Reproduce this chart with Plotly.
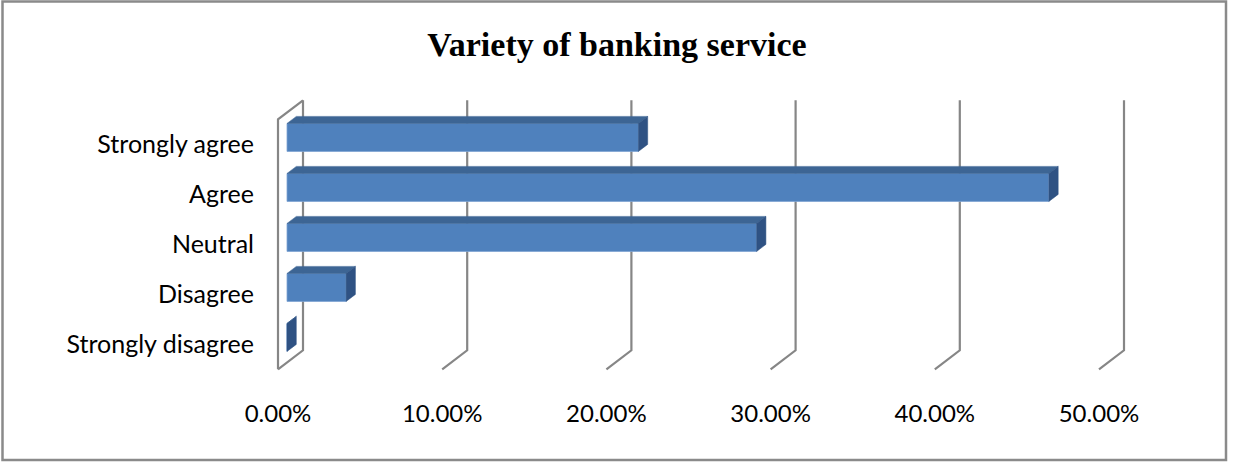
import plotly.graph_objects as go

# ---------------- data ----------------
categories = ["Strongly agree", "Agree", "Neutral", "Disagree", "Strongly disagree"]
values = [0.214, 0.464, 0.286, 0.036, 0.0]
tick_values = [0.0, 0.1, 0.2, 0.3, 0.4, 0.5]
title_text = "Variety of banking service"

# ---------------- geometry (pixels) ----------------
W, H = 1234, 462
PX_PER_UNIT = 1642.0      # px per 1.0 (=100%)
X0_PX = 278.0             # px of 0% at the front of the floor
SLOT_PX = 50.0            # px per category slot
Y0_PX = 144.3             # px of first category centre (front)
DEPTH_RATIO = 0.76        # vertical rise per px of depth
WALL_DEPTH = 25.0
BAR_FRONT, BAR_BACK = 9.0, 18.3
BAR_THICK = 28.0

L, R, T, B = 263, 4, 90, 82


def dx(d):
    return d / PX_PER_UNIT


def dy(d):
    return -DEPTH_RATIO * d / SLOT_PX


x_range = [(L - X0_PX) / PX_PER_UNIT, (W - R - X0_PX) / PX_PER_UNIT]
y_range = [(H - B - Y0_PX) / SLOT_PX, (T - Y0_PX) / SLOT_PX]  # reversed

n = len(categories)
wall_top, wall_bot = -0.5, n - 0.5
half = BAR_THICK / SLOT_PX / 2

FRONT = "#4F81BD"
TOP = "#3D6594"
SIDE = "#2F5283"
GRID = "#868686"

fig = go.Figure()

# gridlines / walls as shapes below traces
shapes = []
for t in tick_values:
    xb = t + dx(WALL_DEPTH)
    path = f"M {xb},{wall_top + dy(WALL_DEPTH)} L {xb},{wall_bot + dy(WALL_DEPTH)} L {t},{wall_bot}"
    shapes.append(dict(type="path", xref="x", yref="y", path=path, layer="below",
                       line=dict(color=GRID, width=2.2)))
# left wall front edge and top
t0 = tick_values[0]
path = (f"M {t0},{wall_bot} L {t0},{wall_top} "
        f"L {t0 + dx(WALL_DEPTH)},{wall_top + dy(WALL_DEPTH)}")
shapes.append(dict(type="path", xref="x", yref="y", path=path, layer="below",
                   line=dict(color=GRID, width=2.2)))


# outer border
def px2paper_x(px):
    return (px - L) / (W - L - R)


def px2paper_y(py):
    return 1 - (py - T) / (H - T - B)


shapes.append(dict(type="rect", xref="paper", yref="paper",
                   x0=px2paper_x(2.5), x1=px2paper_x(1226),
                   y0=px2paper_y(460), y1=px2paper_y(1.5),
                   line=dict(color="#8A8A8A", width=2.5), layer="below"))

# front faces
base_x = dx(BAR_FRONT)
ys = [i + dy(BAR_FRONT) for i in range(n)]
fig.add_trace(go.Bar(
    orientation="h", x=values, y=ys, base=[base_x] * n,
    width=BAR_THICK / SLOT_PX,
    marker=dict(color=FRONT, line=dict(color="#7FA3D3", width=0.8)),
    hoverinfo="skip", showlegend=False,
))

# top and side faces
dd = dx(BAR_BACK - BAR_FRONT)
ddy = dy(BAR_BACK - BAR_FRONT)
for i, v in enumerate(values):
    yc = ys[i]
    ytop, ybot = yc - half, yc + half
    x1 = base_x + v
    # top face
    fig.add_trace(go.Scatter(
        x=[base_x, x1, x1 + dd, base_x + dd, base_x],
        y=[ytop, ytop, ytop + ddy, ytop + ddy, ytop],
        fill="toself", fillcolor=TOP, mode="lines",
        line=dict(color=TOP, width=0.5), hoverinfo="skip", showlegend=False))
    # side face
    fig.add_trace(go.Scatter(
        x=[x1, x1, x1 + dd, x1 + dd, x1],
        y=[ytop, ybot, ybot + ddy, ytop + ddy, ytop],
        fill="toself", fillcolor=SIDE, mode="lines",
        line=dict(color=SIDE, width=0.5), hoverinfo="skip", showlegend=False))

fig.update_layout(
    width=W, height=H,
    margin=dict(l=L, r=R, t=T, b=B),
    paper_bgcolor="white", plot_bgcolor="rgba(0,0,0,0)",
    shapes=shapes,
    title=dict(text=f"<b>{title_text}</b>", x=0.5, xref="container", xanchor="center",
               y=1 - 44 / H, yref="container", yanchor="middle",
               font=dict(family="Liberation Serif", size=34, color="#000000")),
    xaxis=dict(range=x_range, tickvals=tick_values, tickformat=".2%",
               showgrid=False, zeroline=False, showline=False, ticks="",
               ticklabelstandoff=17,
               tickfont=dict(family="Lato", size=24, color="#000000")),
    yaxis=dict(range=y_range, tickvals=list(range(n)), ticktext=categories,
               showgrid=False, zeroline=False, showline=False, ticks="",
               ticklabelstandoff=8,
               tickfont=dict(family="Lato", size=25, color="#000000")),
)

fig.write_html("out.html")
